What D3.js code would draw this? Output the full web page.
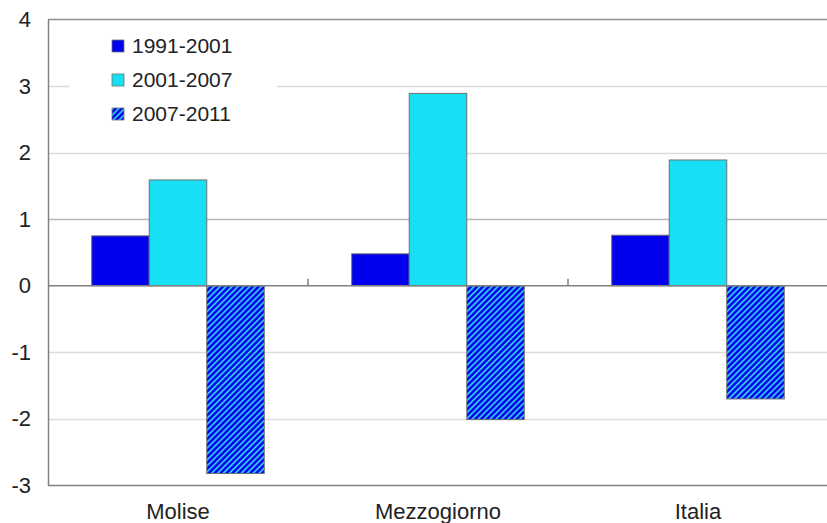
<!DOCTYPE html>
<html>
<head>
<meta charset="utf-8">
<script src="https://cdn.jsdelivr.net/npm/d3@7"></script>
<style>
  body { margin: 0; background: #fff; }
  text { font-family: "Liberation Sans", Arial, sans-serif; fill: #222; }
</style>
</head>
<body>
<svg id="chart" width="827" height="523"></svg>
<script>
const categories = ["Molise", "Mezzogiorno", "Italia"];
const periods = ["1991-2001", "2001-2007", "2007-2011"];
const v1991_2001 = [0.75, 0.48, 0.76];
const v2001_2007 = [1.59, 2.89, 1.89];
const v2007_2011 = [-2.82, -2.01, -1.70];
const yTicks = [-3, -2, -1, 0, 1, 2, 3, 4];

const series = [v1991_2001, v2001_2007, v2007_2011];
const colors = ["#0000ee", "#18e0f4", "url(#hatch)"];

const svg = d3.select("#chart");
const plotLeft = 48, plotRight = 828, plotTop = 19.5, plotBottom = 485.5;

const x = d3.scaleBand().domain(categories).range([plotLeft, plotRight]).paddingInner(0).paddingOuter(0);
const xs = d3.scaleBand().domain(periods).range([0, x.bandwidth()]).paddingInner(0).paddingOuter(0.76);
const y = d3.scaleLinear().domain([-3, 4]).range([plotBottom, plotTop]);

// hatch pattern
const defs = svg.append("defs");
const pat = defs.append("pattern")
  .attr("id", "hatch").attr("patternUnits", "userSpaceOnUse")
  .attr("width", 4.2).attr("height", 4.2)
  .attr("patternTransform", "rotate(45)");
pat.append("rect").attr("width", 4.2).attr("height", 4.2).attr("fill", "#0000ee");
pat.append("rect").attr("width", 1.8).attr("height", 4.2).attr("fill", "#30c4f4");

// gridlines
svg.append("g").selectAll("line")
  .data(yTicks.filter(t => t !== 0 && t !== 4 && t !== -3))
  .join("line")
  .attr("x1", plotLeft).attr("x2", plotRight)
  .attr("y1", d => Math.round(y(d)) + 0.5).attr("y2", d => Math.round(y(d)) + 0.5)
  .attr("stroke", d => d === 1 ? "#b8b8b8" : "#dcdcdc").attr("stroke-width", 1.5);

// frame top / bottom
svg.append("line").attr("x1", plotLeft).attr("x2", plotRight).attr("y1", y(4)).attr("y2", y(4))
  .attr("stroke", "#909090").attr("stroke-width", 1.5);
svg.append("line").attr("x1", plotLeft).attr("x2", plotRight).attr("y1", y(-3)).attr("y2", y(-3))
  .attr("stroke", "#808080").attr("stroke-width", 1.5);

// legend background hides gridlines behind it
svg.append("rect").attr("x", 70).attr("y", 28).attr("width", 207).attr("height", 105).attr("fill", "#fff");

// bars
const groups = svg.append("g").selectAll("g")
  .data(categories)
  .join("g")
  .attr("transform", d => `translate(${x(d)},0)`);

groups.selectAll("rect")
  .data((c, ci) => periods.map((p, si) => ({ p, si, v: series[si][ci] })))
  .join("rect")
  .attr("x", d => xs(d.p))
  .attr("width", xs.bandwidth())
  .attr("y", d => y(Math.max(0, d.v)))
  .attr("height", d => Math.abs(y(d.v) - y(0)))
  .attr("fill", d => colors[d.si])
  .attr("stroke", "#707070").attr("stroke-width", 1);

// zero line with category ticks
svg.append("line").attr("x1", plotLeft).attr("x2", plotRight).attr("y1", y(0)).attr("y2", y(0))
  .attr("stroke", "#808080").attr("stroke-width", 1.5);
svg.append("g").selectAll("line")
  .data(categories.slice(1))
  .join("line")
  .attr("x1", d => x(d)).attr("x2", d => x(d))
  .attr("y1", y(0) - 7).attr("y2", y(0))
  .attr("stroke", "#808080").attr("stroke-width", 1.5);

// y axis
const yAxis = svg.append("g").attr("transform", `translate(${plotLeft},0)`)
  .call(d3.axisLeft(y).tickValues(yTicks).tickSize(0).tickPadding(17).tickFormat(d => String(d)));
yAxis.select(".domain").attr("stroke", "#808080").attr("stroke-width", 1.5);
yAxis.selectAll("text").style("font-size", "22px").attr("fill", "#222")
  .style("font-family", "'Liberation Sans', Arial, sans-serif");

// category labels
svg.append("g").selectAll("text")
  .data(categories)
  .join("text")
  .attr("x", d => x(d) + x.bandwidth() / 2)
  .attr("y", 519)
  .attr("text-anchor", "middle")
  .style("font-size", "22px")
  .text(d => d);

// legend
const leg = svg.append("g").selectAll("g")
  .data(periods)
  .join("g")
  .attr("transform", (d, i) => `translate(112,${46 + i * 34})`);
leg.append("rect")
  .attr("x", 0).attr("y", -6).attr("width", 12).attr("height", 12)
  .attr("fill", (d, i) => colors[i])
  .attr("stroke", "#707070").attr("stroke-width", 0.8);
leg.append("text")
  .attr("x", 20).attr("y", 0).attr("dy", "0.35em")
  .style("font-size", "21px")
  .text(d => d);
</script>
</body>
</html>
